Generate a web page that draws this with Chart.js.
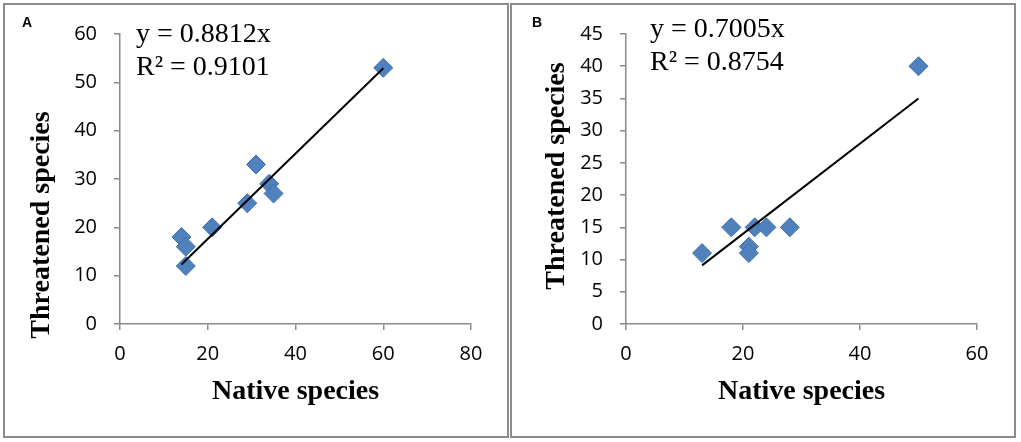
<!DOCTYPE html>
<html>
<head>
<meta charset="utf-8">
<script src="https://cdn.jsdelivr.net/npm/chart.js@4.4.1/dist/chart.umd.min.js"></script>
<style>
  body { margin: 0; background: #fff; }
  .panel { position: absolute; top: 3px; width: 506px; height: 435px; box-sizing: border-box; border: 2px solid #8c8c8c; }
  #pA { left: 3px; }
  #pB { left: 510px; }
</style>
</head>
<body>
<div class="panel" id="pA"><canvas id="chartA"></canvas></div>
<div class="panel" id="pB"><canvas id="chartB"></canvas></div>
<script>
// panel A data
const nativeA = [14, 15, 15, 21, 29, 31, 34, 35, 60];
const threatA = [18, 16, 12, 20, 25, 33, 29, 27, 53];
const trendAx = [14, 60];
const trendAy = [12.3, 52.9];
const xTicksA = [0, 20, 40, 60, 80];
const yTicksA = [0, 10, 20, 30, 40, 50, 60];

// panel B data
const nativeB = [13, 18, 21, 21, 22, 24, 28, 50];
const threatB = [11, 15, 12, 11, 15, 15, 15, 40];
const trendBx = [13, 50];
const trendBy = [9.1, 35.0];
const xTicksB = [0, 20, 40, 60];
const yTicksB = [0, 5, 10, 15, 20, 25, 30, 35, 40, 45];

const axisGray = '#898989';
const tickFont = {family: '"Open Sans", sans-serif', size: 20};

function pts(xs, ys) {
    return xs.map((x, i) => ({x: x, y: ys[i]}));
}

// extra text: panel letter, equation, rotated y title
const notes = {
    id: 'notes',
    afterDraw(chart, args, o) {
        const ctx = chart.ctx;
        ctx.save();
        ctx.fillStyle = '#000';
        ctx.font = 'bold 14px "Liberation Sans", Arial, sans-serif';
        ctx.textAlign = 'left';
        ctx.textBaseline = 'alphabetic';
        ctx.fillText(o.letter, o.letterX, 22);
        ctx.font = '28px "Liberation Serif", "Times New Roman", serif';
        ctx.fillText(o.eq1, o.eqX, o.eqY);
        ctx.fillText(o.eq2, o.eqX, o.eqY + 33);
        ctx.translate(o.titleX, o.titleY);
        ctx.rotate(-Math.PI / 2);
        ctx.textAlign = 'center';
        ctx.textBaseline = 'middle';
        ctx.font = 'bold 28px "Liberation Serif", "Times New Roman", serif';
        ctx.fillText('Threatened species', 0, 0);
        ctx.restore();
    }
};

function makeChart(id, cfg) {
    return new Chart(document.getElementById(id), {
        type: 'scatter',
        data: {
            datasets: [{
                type: 'line',
                data: pts(cfg.tx, cfg.ty),
                borderColor: '#000',
                borderWidth: 2,
                pointRadius: 0,
                fill: false
            }, {
                data: pts(cfg.xs, cfg.ys),
                pointStyle: 'rectRot',
                pointRadius: 9.5,
                pointHoverRadius: 9.5,
                backgroundColor: '#4F81BD',
                borderColor: '#3E6FAC',
                borderWidth: 1
            }]
        },
        options: {
            responsive: true,
            maintainAspectRatio: false,
            animation: false,
            layout: {padding: {left: 0, top: 26, right: cfg.padRight, bottom: 0}},
            plugins: {
                legend: {display: false},
                tooltip: {enabled: false},
                notes: cfg.notes
            },
            scales: {
                x: {
                    type: 'linear',
                    min: cfg.xTicks[0],
                    max: cfg.xTicks[cfg.xTicks.length - 1],
                    afterBuildTicks: s => { s.ticks = cfg.xTicks.map(v => ({value: v})); },
                    afterFit: s => { s.height = 112; },
                    border: {color: axisGray, width: 1.5},
                    grid: {drawOnChartArea: false, drawTicks: true, tickLength: 6, color: axisGray, lineWidth: 1.5},
                    ticks: {color: '#000', padding: 12, maxRotation: 0, font: tickFont},
                    title: {
                        display: true,
                        text: 'Native species',
                        color: '#000',
                        padding: {top: 0, bottom: 27},
                        font: {family: '"Liberation Serif", "Times New Roman", serif', size: 28, weight: 'bold', lineHeight: 1.2}
                    }
                },
                y: {
                    type: 'linear',
                    min: cfg.yTicks[0],
                    max: cfg.yTicks[cfg.yTicks.length - 1],
                    afterBuildTicks: s => { s.ticks = cfg.yTicks.map(v => ({value: v})); },
                    afterFit: s => { s.width = cfg.yWidth; },
                    border: {color: axisGray, width: 1.5},
                    grid: {drawOnChartArea: false, drawTicks: true, tickLength: 6, color: axisGray, lineWidth: 1.5},
                    ticks: {color: '#000', padding: 17, font: tickFont}
                }
            }
        },
        plugins: [notes]
    });
}

makeChart('chartA', {
    xs: nativeA, ys: threatA, tx: trendAx, ty: trendAy,
    xTicks: xTicksA, yTicks: yTicksA,
    yWidth: 115, padRight: 36,
    notes: {letter: 'A', letterX: 17, eq1: 'y = 0.8812x', eq2: 'R\u00b2 = 0.9101', eqX: 131, eqY: 37, titleX: 37, titleY: 220}
});

makeChart('chartB', {
    xs: nativeB, ys: threatB, tx: trendBx, ty: trendBy,
    xTicks: xTicksB, yTicks: yTicksB,
    yWidth: 114, padRight: 37,
    notes: {letter: 'B', letterX: 20, eq1: 'y = 0.7005x', eq2: 'R\u00b2 = 0.8754', eqX: 138, eqY: 32, titleX: 45, titleY: 171}
});
</script>
</body>
</html>
